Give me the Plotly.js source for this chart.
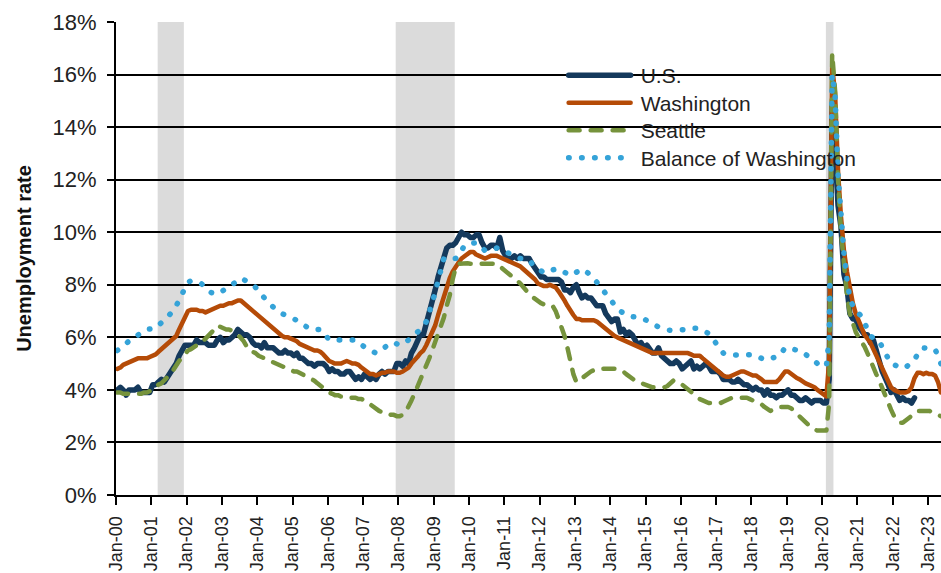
<!DOCTYPE html>
<html><head><meta charset="utf-8">
<script src="https://cdn.plot.ly/plotly-3.0.1.min.js"></script>
<style>html,body{margin:0;padding:0;background:#fff;} #chart{width:941px;height:573px;}</style>
</head><body><div id="chart"></div>
<script>
// ---- DATA (monthly, starting Jan 2000) ----
const startYear = 2000;
const seriesNames = ['U.S.', 'Washington', 'Seattle', 'Balance of Washington'];

const usRate = [
4.0,4.1,4.0,3.8,4.0,4.0,4.0,4.1,3.9,3.9,3.9,3.9,
4.2,4.2,4.3,4.4,4.3,4.5,4.6,4.9,5.0,5.3,5.5,5.7,
5.7,5.7,5.7,5.9,5.8,5.8,5.8,5.7,5.7,5.7,5.9,6.0,
5.8,5.9,5.9,6.0,6.1,6.3,6.2,6.1,6.1,6.0,5.8,5.7,
5.7,5.6,5.8,5.6,5.6,5.6,5.5,5.4,5.4,5.5,5.4,5.4,
5.3,5.4,5.2,5.2,5.1,5.0,5.0,4.9,5.0,5.0,5.0,4.9,
4.7,4.8,4.7,4.7,4.6,4.6,4.7,4.7,4.5,4.4,4.5,4.4,
4.6,4.5,4.4,4.5,4.4,4.6,4.7,4.6,4.7,4.7,4.7,5.0,
5.0,4.9,5.1,5.0,5.4,5.6,5.8,6.1,6.1,6.5,6.8,7.3,
7.8,8.3,8.7,9.0,9.4,9.5,9.5,9.6,9.8,10.0,9.9,9.9,
9.8,9.8,9.9,9.9,9.6,9.4,9.4,9.5,9.5,9.4,9.8,9.3,
9.1,9.0,9.0,9.1,9.0,9.1,9.0,9.0,9.0,8.8,8.6,8.5,
8.3,8.3,8.2,8.2,8.2,8.2,8.2,8.1,7.8,7.8,7.7,7.9,
8.0,7.7,7.5,7.6,7.5,7.5,7.3,7.2,7.2,7.2,6.9,6.7,
6.6,6.7,6.7,6.2,6.3,6.1,6.2,6.1,5.9,5.7,5.8,5.6,
5.7,5.5,5.4,5.4,5.6,5.3,5.2,5.1,5.0,5.0,5.1,5.0,
4.8,4.9,5.0,5.1,4.8,4.9,4.8,4.9,5.0,4.9,4.7,4.7,
4.7,4.6,4.4,4.4,4.4,4.3,4.3,4.4,4.3,4.2,4.2,4.1,
4.0,4.1,4.0,4.0,3.8,4.0,3.8,3.8,3.7,3.8,3.8,3.9,
4.0,3.8,3.8,3.7,3.6,3.6,3.7,3.6,3.5,3.6,3.6,3.6,
3.5,3.5,4.4,14.8,13.2,11.0,10.2,8.4,7.9,6.9,6.7,6.7,
6.4,6.2,6.1,6.1,5.8,5.9,5.4,5.1,4.7,4.5,4.2,3.9,
4.0,3.8,3.6,3.7,3.6,3.6,3.5,3.7
];

const waRate = [
4.8,4.85,4.95,5.0,5.05,5.1,5.15,5.2,5.2,5.2,5.2,5.25,
5.3,5.35,5.45,5.55,5.6,5.7,5.8,5.9,6.05,6.3,6.55,6.85,
7.0,7.05,7.05,7.05,7.0,7.0,6.95,7.0,7.05,7.1,7.15,7.2,
7.2,7.25,7.3,7.3,7.35,7.4,7.4,7.3,7.2,7.1,7.0,6.9,
6.8,6.7,6.6,6.5,6.4,6.3,6.2,6.1,6.05,6.0,6.0,5.95,
5.9,5.85,5.75,5.7,5.65,5.6,5.55,5.5,5.5,5.45,5.35,5.2,
5.1,5.05,5.0,5.0,5.0,5.05,5.1,5.05,5.0,5.0,4.95,4.85,
4.75,4.7,4.6,4.6,4.55,4.6,4.65,4.65,4.7,4.7,4.7,4.65,
4.65,4.7,4.75,4.85,5.0,5.1,5.25,5.4,5.5,5.7,5.95,6.2,
6.45,6.85,7.2,7.6,7.95,8.25,8.5,8.7,8.85,9.0,9.1,9.2,
9.25,9.25,9.15,9.1,9.05,9.0,9.05,9.1,9.1,9.1,9.05,9.0,
8.95,8.9,8.85,8.8,8.75,8.7,8.6,8.5,8.45,8.3,8.2,8.05,
8.0,7.95,7.95,8.0,7.95,7.9,7.75,7.6,7.4,7.2,7.0,6.85,
6.7,6.7,6.65,6.65,6.65,6.65,6.65,6.6,6.5,6.4,6.3,6.2,
6.1,6.05,6.0,5.95,5.9,5.85,5.8,5.75,5.7,5.65,5.6,5.55,
5.5,5.45,5.4,5.4,5.4,5.4,5.4,5.4,5.4,5.4,5.4,5.4,
5.4,5.4,5.4,5.35,5.3,5.3,5.3,5.2,5.1,5.0,4.9,4.85,
4.75,4.65,4.55,4.5,4.5,4.55,4.6,4.65,4.7,4.7,4.65,4.6,
4.55,4.55,4.5,4.4,4.3,4.3,4.3,4.3,4.3,4.4,4.55,4.7,
4.7,4.6,4.5,4.45,4.4,4.3,4.25,4.2,4.15,4.1,4.0,3.9,
3.8,3.75,5.1,16.3,15.3,12.3,10.6,9.3,8.5,7.8,7.3,6.9,
6.6,6.35,6.1,5.95,5.8,5.55,5.3,5.05,4.8,4.55,4.3,4.1,
4.0,3.95,3.9,3.9,3.9,3.95,4.1,4.45,4.65,4.65,4.6,4.65,
4.6,4.6,4.55,4.3,3.9
];

const seattleRate = [
3.9,3.9,3.85,3.85,3.85,3.85,3.85,3.85,3.85,3.9,3.9,3.95,
4.0,4.1,4.2,4.25,4.35,4.45,4.6,4.75,4.95,5.1,5.25,5.4,
5.5,5.55,5.6,5.7,5.8,5.85,5.95,6.05,6.15,6.3,6.45,6.4,
6.35,6.3,6.3,6.25,6.2,6.1,6.0,5.85,5.65,5.5,5.45,5.4,
5.3,5.25,5.2,5.15,5.1,5.05,5.0,4.95,4.9,4.85,4.8,4.75,
4.7,4.7,4.65,4.6,4.55,4.5,4.45,4.35,4.25,4.15,4.05,4.0,
3.9,3.85,3.8,3.8,3.75,3.75,3.7,3.7,3.7,3.7,3.65,3.65,
3.6,3.55,3.45,3.35,3.3,3.2,3.15,3.1,3.1,3.05,3.05,3.0,
3.0,3.05,3.15,3.35,3.6,3.85,4.1,4.4,4.7,4.95,5.2,5.5,
5.8,6.1,6.45,6.75,7.2,7.6,8.2,8.65,8.8,8.82,8.82,8.82,
8.8,8.8,8.8,8.8,8.8,8.8,8.8,8.8,8.8,8.8,8.7,8.6,
8.5,8.45,8.35,8.25,8.15,8.05,7.9,7.75,7.65,7.55,7.45,7.35,
7.3,7.25,7.25,7.25,7.2,7.0,6.7,6.4,6.05,5.6,5.1,4.6,
4.3,4.35,4.45,4.55,4.65,4.7,4.75,4.8,4.8,4.8,4.8,4.8,
4.8,4.8,4.8,4.75,4.7,4.6,4.5,4.45,4.35,4.3,4.25,4.2,
4.15,4.1,4.1,4.1,4.1,4.1,4.1,4.15,4.25,4.35,4.35,4.3,
4.2,4.1,4.0,3.9,3.8,3.75,3.65,3.6,3.55,3.5,3.5,3.5,
3.5,3.5,3.55,3.6,3.65,3.7,3.7,3.7,3.7,3.7,3.7,3.65,
3.6,3.55,3.5,3.45,3.35,3.25,3.2,3.25,3.3,3.35,3.35,3.35,
3.35,3.3,3.2,3.05,2.95,2.85,2.75,2.65,2.55,2.5,2.45,2.45,
2.45,2.45,3.5,16.8,15.4,12.0,10.0,8.6,7.6,6.9,6.5,6.2,
6.0,5.85,5.65,5.4,5.1,4.85,4.6,4.35,4.05,3.75,3.45,3.25,
3.0,2.85,2.75,2.75,2.85,2.95,3.0,3.1,3.2,3.2,3.2,3.2,
3.2,3.15,3.1,3.05,3.0
];

const balanceRate = [
5.5,5.6,5.7,5.8,5.9,5.95,6.0,6.1,6.2,6.25,6.3,6.3,
6.3,6.35,6.45,6.55,6.65,6.75,6.85,7.0,7.2,7.4,7.65,7.9,
8.1,8.15,8.15,8.15,8.1,8.0,7.85,7.75,7.7,7.65,7.65,7.7,
7.8,7.9,7.95,8.0,8.1,8.2,8.25,8.2,8.15,8.05,8.0,7.9,
7.75,7.6,7.5,7.4,7.25,7.15,7.05,6.95,6.9,6.85,6.8,6.75,
6.7,6.65,6.6,6.5,6.4,6.35,6.3,6.3,6.3,6.3,6.2,6.05,
5.9,5.9,5.9,5.9,5.9,5.9,5.9,5.9,5.9,5.9,5.8,5.7,
5.6,5.55,5.5,5.45,5.4,5.45,5.55,5.65,5.75,5.8,5.8,5.75,
5.7,5.75,5.8,5.9,6.0,6.1,6.2,6.3,6.4,6.6,6.9,7.3,
7.7,8.2,8.6,9.0,9.05,9.0,9.0,9.0,9.1,9.3,9.5,9.55,
9.55,9.6,9.6,9.5,9.4,9.3,9.3,9.35,9.4,9.4,9.35,9.3,
9.2,9.15,9.1,9.05,9.0,9.0,9.0,9.0,8.95,8.8,8.7,8.6,
8.5,8.45,8.5,8.55,8.6,8.6,8.6,8.55,8.45,8.4,8.35,8.4,
8.5,8.55,8.6,8.55,8.45,8.35,8.25,8.1,7.95,7.8,7.65,7.5,
7.4,7.25,7.1,7.0,6.9,6.85,6.8,6.8,6.8,6.8,6.75,6.7,
6.65,6.6,6.5,6.45,6.4,6.35,6.3,6.28,6.27,6.27,6.27,6.27,
6.27,6.27,6.3,6.35,6.37,6.35,6.3,6.25,6.2,6.15,6.0,5.85,
5.7,5.55,5.4,5.35,5.32,5.32,5.33,5.34,5.34,5.34,5.34,5.34,
5.34,5.3,5.25,5.2,5.15,5.15,5.18,5.2,5.23,5.3,5.45,5.6,
5.6,5.58,5.55,5.52,5.5,5.45,5.35,5.28,5.2,5.1,5.0,4.92,
4.9,4.9,6.0,16.0,15.2,12.2,10.4,9.2,8.2,7.5,7.2,7.0,
6.9,6.8,6.6,6.3,6.05,5.98,5.96,5.85,5.6,5.4,5.2,5.0,
4.95,4.9,4.85,4.82,4.85,4.95,5.05,5.15,5.35,5.55,5.6,5.6,
5.6,5.6,5.55,5.3,5.0
];

const yTickValues = [0,2,4,6,8,10,12,14,16,18];
const yTickLabels = ['0%','2%','4%','6%','8%','10%','12%','14%','16%','18%'];
const recessionStart = ['2001-03-07', '2007-12-04', '2020-02-10'];
const recessionEnd   = ['2001-12-03', '2009-08-06', '2020-04-28'];

// ---- build ----
function monthDates(n) {
  const out = [];
  for (let i = 0; i < n; i++) {
    const y = startYear + Math.floor(i / 12);
    const m = (i % 12) + 1;
    out.push(y + '-' + String(m).padStart(2, '0') + '-15');
  }
  return out;
}
const FONT = 'Liberation Sans, Arial, sans-serif';
const colors = ['#14395C', '#B54B07', '#76933C', '#35A3D8'];
const values = [usRate, waRate, seattleRate, balanceRate];
const lineStyles = [
  {width: 5.5, dash: 'solid'},
  {width: 4.5, dash: 'solid'},
  {width: 4.5, dash: '11px,11px'},
  {width: 5.5, dash: '0.5px,12.5px'}
];
const traces = values.map((v, i) => ({
  type: 'scatter', mode: 'lines', name: seriesNames[i],
  x: monthDates(v.length), y: v,
  line: {color: colors[i], width: lineStyles[i].width, dash: lineStyles[i].dash},
  hoverinfo: 'skip'
}));

const shapes = recessionStart.map((s, i) => ({
  type: 'rect', xref: 'x', yref: 'paper', x0: s, x1: recessionEnd[i], y0: 0, y1: 1,
  fillcolor: 'rgba(160,160,160,0.38)', line: {width: 0}, layer: 'between'
}));

const layout = {
  width: 941, height: 573,
  margin: {l: 116, r: 0, t: 22, b: 78},
  paper_bgcolor: '#fff', plot_bgcolor: '#fff',
  font: {family: FONT, color: '#222', size: 22},
  showlegend: true,
  legend: {
    x: 0.545, y: 0.93, xanchor: 'left', yanchor: 'top',
    bgcolor: 'rgba(0,0,0,0)', borderwidth: 0,
    font: {family: FONT, size: 21, color: '#222'},
    itemwidth: 65, tracegroupgap: 0
  },
  xaxis: {
    type: 'date', range: ['2000-01-01', '2023-05-16'],
    tick0: '2000-01-01', dtick: 'M12', tickformat: '%b-%y', tickangle: -90,
    ticks: 'outside', ticklen: 8, tickwidth: 2, tickcolor: '#000',
    showline: true, linecolor: '#000', linewidth: 2,
    showgrid: false, zeroline: false, ticklabelstandoff: 4,
    tickfont: {family: FONT, size: 18, color: '#222'}
  },
  yaxis: {
    range: [0, 18], tickmode: 'array', tickvals: yTickValues, ticktext: yTickLabels,
    ticks: 'outside', ticklen: 7, tickwidth: 2, tickcolor: '#000',
    showline: true, linecolor: '#000', linewidth: 2,
    showgrid: true, gridcolor: '#000', gridwidth: 2, zeroline: false,
    tickfont: {family: FONT, size: 22, color: '#222'},
    ticklabelstandoff: 6,
    title: {text: 'Unemployment rate', font: {family: FONT, size: 20, color: '#111', weight: 'bold'}, standoff: 16}
  },
  shapes: shapes,
  hovermode: false
};

Plotly.newPlot('chart', traces, layout, {staticPlot: true, displayModeBar: false}).then(gd => {
  gd.querySelectorAll('.scatterlayer path.js-line').forEach(p => {
    p.style.strokeLinecap = 'round'; p.style.strokeLinejoin = 'round';
  });
  gd.querySelectorAll('.legend path.js-line').forEach(p => {
    p.setAttribute('d', 'M3,0h62');
    p.style.strokeLinecap = 'round';
  });
  let y0 = null;
  gd.querySelectorAll('.legend .traces').forEach((g, i) => {
    const m = /translate\(\s*([-\d.]+)[\s,]+([-\d.]+)\s*\)/.exec(g.getAttribute('transform') || '');
    if (m) {
      if (y0 === null) y0 = parseFloat(m[2]);
      g.setAttribute('transform', 'translate(' + m[1] + ',' + (y0 + i * 27.5) + ')');
    }
  });
});
</script>
</body></html>
